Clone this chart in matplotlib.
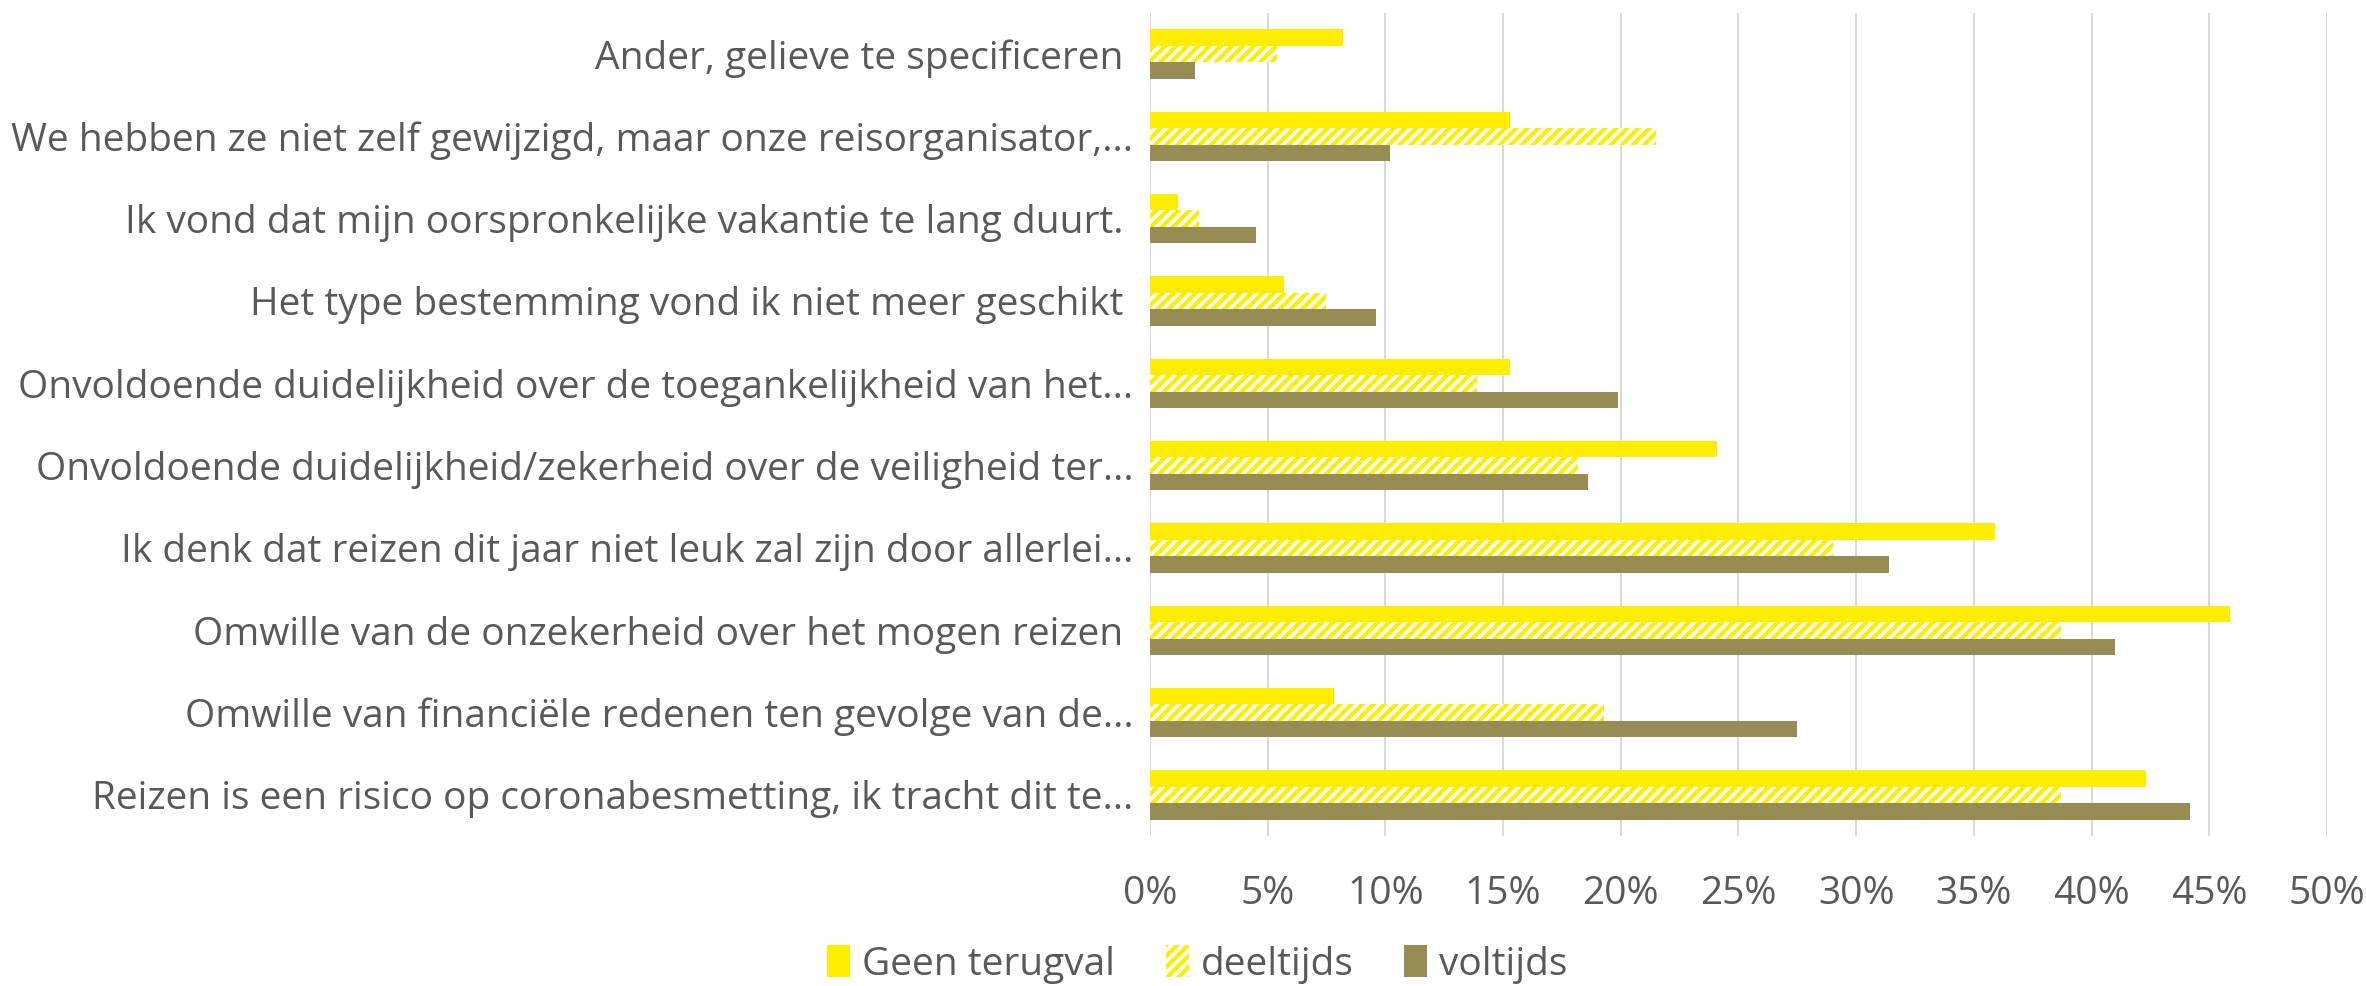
import matplotlib
matplotlib.use('Agg')
from matplotlib import pyplot as plt
from matplotlib.ticker import PercentFormatter
import numpy as np

# categories, top to bottom as in the chart
labels = [
    'Ander, gelieve te specificeren ',
    'We hebben ze niet zelf gewijzigd, maar onze reisorganisator,...',
    'Ik vond dat mijn oorspronkelijke vakantie te lang duurt. ',
    'Het type bestemming vond ik niet meer geschikt ',
    'Onvoldoende duidelijkheid over de toegankelijkheid van het...',
    'Onvoldoende duidelijkheid/zekerheid over de veiligheid ter...',
    'Ik denk dat reizen dit jaar niet leuk zal zijn door allerlei...',
    'Omwille van de onzekerheid over het mogen reizen ',
    'Omwille van financi\u00eble redenen ten gevolge van de...',
    'Reizen is een risico op coronabesmetting, ik tracht dit te...',
]
geen_terugval = [8.2, 15.3, 1.2, 5.7, 15.3, 24.1, 35.9, 45.9, 7.8, 42.3]
deeltijds = [5.4, 21.5, 2.1, 7.5, 13.9, 18.2, 29.0, 38.7, 19.3, 38.7]
voltijds = [1.9, 10.2, 4.5, 9.6, 19.9, 18.6, 31.4, 41.0, 27.5, 44.2]
series_names = ['Geen terugval', 'deeltijds', 'voltijds']

yellow = '#FFED00'
olive = '#978C54'
grey = '#595959'

plt.rcParams['font.family'] = ['Open Sans', 'DejaVu Sans']
plt.rcParams['hatch.linewidth'] = 1.5

fig = plt.figure(figsize=(11.83, 4.93), dpi=200)
ax = fig.add_axes([0.486, 0.152, 0.4975, 0.835])

n = len(labels)
ypos = np.arange(n)[::-1]
h = 0.2
ax.barh(ypos + h, geen_terugval, height=h, color=yellow, linewidth=0,
        label=series_names[0], zorder=3)
ax.barh(ypos, deeltijds, height=h, color='white', edgecolor=yellow,
        hatch='//////', linewidth=0, label=series_names[1], zorder=3)
ax.barh(ypos - h, voltijds, height=h, color=olive, linewidth=0,
        label=series_names[2], zorder=3)

ax.set_xlim(0, 50)
ax.set_ylim(-0.5, n - 0.5)
ax.set_xticks(np.arange(0, 51, 5))
ax.xaxis.set_major_formatter(PercentFormatter(decimals=0))
ax.set_yticks(ypos)
ax.set_yticklabels(labels)
ax.tick_params(axis='both', length=0, labelsize=14, labelcolor=grey)
ax.tick_params(axis='x', pad=14)
ax.tick_params(axis='y', pad=6)
ax.grid(axis='x', color='#d9d9d9', linewidth=0.75, zorder=0)
ax.set_axisbelow(True)
for s in ax.spines.values():
    s.set_visible(False)

leg = fig.legend(loc='center', bbox_to_anchor=(0.506, 0.022), ncol=3,
                 frameon=False, fontsize=14, handlelength=0.6,
                 handleheight=0.9, handletextpad=0.3, columnspacing=1.3)
for t in leg.get_texts():
    t.set_color(grey)

plt.savefig('out.png', dpi=200)
